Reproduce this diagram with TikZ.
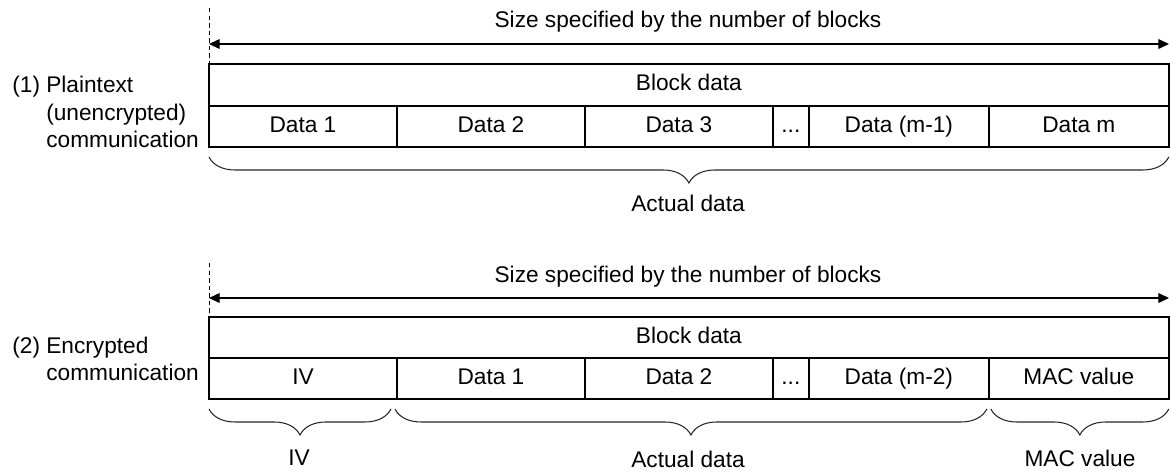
\documentclass[tikz,border=0pt]{standalone}
\usepackage{fontspec}
\setmainfont{Liberation Sans}
\usetikzlibrary{positioning, arrows.meta, decorations.pathreplacing}

\tikzset{
    cell/.style={draw, line width=0.85pt, rectangle, inner sep=0pt, outer sep=0pt, minimum height=0.82cm, text height=9.3pt, text depth=2.7pt},
    span/.style={{Triangle[length=6pt,width=5.5pt]}-{Triangle[length=6pt,width=5.5pt]}, line width=0.6pt},
    guide/.style={line width=0.5pt, dash pattern=on 2.5pt off 1.8pt},
    brc/.style={decorate, decoration={brace, mirror, amplitude=0.52cm}, line width=0.6pt, black!85},
}

\begin{document}
\begin{tikzpicture}[x=0.02cm, y=0.02cm, font=\fontsize{12.9}{15.6}\selectfont]
    \useasboundingbox (0,0) rectangle (1170,-471);
    %
    % (1) plaintext
    \node [anchor=west, align=left, inner sep=0pt] (lab1) at (12,-112) {(1) Plaintext\\\hphantom{(1) }(unencrypted)\\\hphantom{(1) }communication};
    \node [cell, anchor=north west, minimum width=19.2cm, minimum height=0.84cm] (blk1) at (209,-64) {Block data};
    \node [cell, anchor=north west, minimum width=3.76cm] (p1) at (blk1.south west) {Data 1};
    \node [cell, right=0pt of p1, minimum width=3.76cm] (p2) {Data 2};
    \node [cell, right=0pt of p2, minimum width=3.76cm] (p3) {Data 3};
    \node [cell, right=0pt of p3, minimum width=0.72cm] (p4) {.{}.{}.};
    \node [cell, right=0pt of p4, minimum width=3.6cm] (p5) {Data (m-1)};
    \node [cell, right=0pt of p5, minimum width=3.6cm] (p6) {Data m};
    %
    \coordinate (g1) at (209,-8);
    \coordinate (s1l) at (209,-44);
    \coordinate (s1r) at (1169,-44);
    \node (sz1) at (688,-22) {Size specified by the number of blocks};
    \draw [guide] (g1) -- (blk1.north west);
    \draw [span] (s1l) -- (s1r);
    %
    \draw [brc] ([yshift=-0.2cm]p1.south west) -- ([yshift=-0.2cm]p6.south east);
    \node (act1) at (688,-203) {Actual data};
    %
    % (2) encrypted
    \node [anchor=west, align=left, inner sep=0pt] (lab2) at (12,-359) {(2) Encrypted\\\hphantom{(2) }communication};
    \node [cell, anchor=north west, minimum width=19.2cm, minimum height=0.82cm] (blk2) at (209,-317) {Block data};
    \node [cell, anchor=north west, minimum width=3.76cm] (q1) at (blk2.south west) {IV};
    \node [cell, right=0pt of q1, minimum width=3.76cm] (q2) {Data 1};
    \node [cell, right=0pt of q2, minimum width=3.76cm] (q3) {Data 2};
    \node [cell, right=0pt of q3, minimum width=0.72cm] (q4) {.{}.{}.};
    \node [cell, right=0pt of q4, minimum width=3.6cm] (q5) {Data (m-2)};
    \node [cell, right=0pt of q5, minimum width=3.6cm] (q6) {MAC value};
    %
    \coordinate (g2) at (209,-263);
    \coordinate (s2l) at (209,-298);
    \coordinate (s2r) at (1169,-298);
    \node (sz2) at (688,-277) {Size specified by the number of blocks};
    \draw [guide] (g2) -- (blk2.north west);
    \draw [span] (s2l) -- (s2r);
    %
    \draw [brc] ([yshift=-0.2cm]q1.south west) -- ([xshift=-0.12cm, yshift=-0.2cm]q1.south east);
    \draw [brc] ([xshift=-0.04cm, yshift=-0.2cm]q2.south west) -- ([xshift=-0.04cm, yshift=-0.2cm]q5.south east);
    \draw [brc] ([xshift=0.04cm, yshift=-0.2cm]q6.south west) -- ([yshift=-0.2cm]q6.south east);
    \node (iv) at (299,-458) {IV};
    \node (act2) at (688,-459) {Actual data};
    \node (mac) at (1080,-458) {MAC value};
\end{tikzpicture}
\end{document}
